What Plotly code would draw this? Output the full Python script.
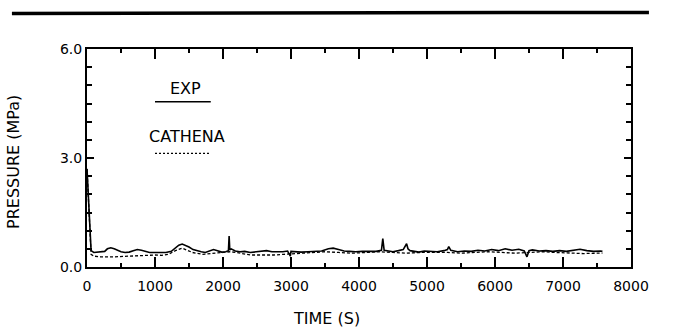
import plotly.graph_objects as go

exp_time = [0, 20, 40, 60, 100, 150, 200, 260, 300, 350, 400, 450, 500, 560, 620, 680, 740, 800, 860, 920,
            1000, 1080, 1160, 1240, 1300, 1350, 1400, 1450, 1500, 1560, 1620, 1680, 1740, 1800, 1860, 1920,
            1980, 2040, 2080, 2090, 2100, 2120, 2180, 2250, 2320, 2400, 2480, 2560, 2640, 2720, 2800, 2880,
            2950, 2990, 3000, 3050, 3150, 3250, 3350, 3450, 3550, 3620, 3700, 3780, 3860, 3950, 4050, 4150,
            4250, 4330, 4350, 4370, 4420, 4500, 4580, 4650, 4700, 4720, 4750, 4800, 4880, 4960, 5050, 5150,
            5250, 5300, 5320, 5350, 5450, 5550, 5650, 5750, 5850, 5950, 6050, 6150, 6250, 6350, 6430, 6470,
            6500, 6550, 6650, 6750, 6850, 6950, 7050, 7150, 7250, 7350, 7450, 7550, 7580]
exp_pressure = [2.7, 2.0, 1.0, 0.45, 0.40, 0.41, 0.40, 0.43, 0.50, 0.53, 0.50, 0.46, 0.42, 0.40, 0.41, 0.45, 0.48, 0.46, 0.42, 0.40,
                0.40, 0.39, 0.40, 0.43, 0.52, 0.60, 0.63, 0.60, 0.55, 0.48, 0.44, 0.42, 0.40, 0.44, 0.48, 0.45,
                0.41, 0.42, 0.45, 0.85, 0.47, 0.50, 0.44, 0.42, 0.43, 0.40, 0.41, 0.44, 0.45, 0.42, 0.41, 0.42,
                0.44, 0.30, 0.43, 0.42, 0.41, 0.42, 0.43, 0.44, 0.50, 0.52, 0.48, 0.44, 0.43, 0.42, 0.43, 0.44,
                0.43, 0.46, 0.78, 0.46, 0.44, 0.42, 0.45, 0.48, 0.64, 0.50, 0.45, 0.43, 0.41, 0.44, 0.43, 0.42,
                0.45, 0.48, 0.56, 0.46, 0.42, 0.44, 0.43, 0.46, 0.44, 0.48, 0.45, 0.50, 0.46, 0.49, 0.44, 0.28,
                0.45, 0.47, 0.44, 0.45, 0.43, 0.45, 0.43, 0.47, 0.49, 0.45, 0.43, 0.44, 0.43]

cat_time = [0, 30, 60, 100, 200, 400, 600, 800, 1000, 1100, 1200, 1300, 1400, 1450, 1550, 1700, 1900, 2000,
            2100, 2200, 2400, 2600, 2750, 2900, 3100, 3300, 3500, 3700, 3900, 4100, 4300, 4500, 4700, 4900,
            5100, 5300, 5500, 5700, 5900, 6100, 6300, 6500, 6700, 6900, 7100, 7300, 7500, 7580]
cat_pressure = [2.7, 1.5, 0.35, 0.30, 0.28, 0.28, 0.30, 0.33, 0.33, 0.32, 0.35, 0.45, 0.52, 0.48, 0.40, 0.35, 0.37, 0.40,
                0.42, 0.40, 0.33, 0.32, 0.33, 0.35, 0.38, 0.40, 0.42, 0.40, 0.38, 0.40, 0.42, 0.40, 0.38, 0.40,
                0.41, 0.40, 0.38, 0.40, 0.42, 0.40, 0.38, 0.40, 0.42, 0.40, 0.38, 0.37, 0.38, 0.38]

legend_labels = ["EXP", "CATHENA"]
legend_line_x = [1000, 1820]
legend_line_y = [4.55, 3.13]
legend_text_x = [1450, 1470]
legend_text_y = [4.92, 3.58]

FONT = "DejaVu Sans"

fig = go.Figure()
fig.add_trace(go.Scatter(x=exp_time, y=exp_pressure, mode="lines",
                         line=dict(color="black", width=1.6), showlegend=False))
fig.add_trace(go.Scatter(x=cat_time, y=cat_pressure, mode="lines",
                         line=dict(color="black", width=1.3, dash="3px,2px"), showlegend=False))

# legend samples
fig.add_trace(go.Scatter(x=legend_line_x, y=[legend_line_y[0]] * 2, mode="lines",
                         line=dict(color="black", width=1.6), showlegend=False))
fig.add_trace(go.Scatter(x=legend_line_x, y=[legend_line_y[1]] * 2, mode="lines",
                         line=dict(color="black", width=1.3, dash="2px,2px"), showlegend=False))
for lab, lx, ly in zip(legend_labels, legend_text_x, legend_text_y):
    fig.add_annotation(x=lx, y=ly, xref="x", yref="y", text=lab, showarrow=False,
                       font=dict(family=FONT, size=16, color="black"))

# header rule
fig.add_shape(type="line", xref="paper", yref="paper", x0=-0.138, x1=1.033, y0=1.163, y1=1.168,
              line=dict(color="black", width=3.5))

# axis titles
fig.add_annotation(x=0.44, y=-0.235, xref="paper", yref="paper", text="TIME (S)", showarrow=False,
                   yanchor="middle", font=dict(family=FONT, size=16, color="black"))
fig.add_annotation(x=-0.135, y=0.48, xref="paper", yref="paper", text="PRESSURE (MPa)", showarrow=False,
                   textangle=-90, xanchor="center", font=dict(family=FONT, size=16, color="black"))

fig.update_xaxes(range=[0, 8000], tickvals=[0, 1000, 2000, 3000, 4000, 5000, 6000, 7000, 8000],
                 ticks="inside", ticklen=10, tickwidth=1.5, tickcolor="black", ticklabelstandoff=5,
                 minor=dict(dtick=500, tick0=0, ticks="inside", ticklen=4, tickwidth=1.5, tickcolor="black"),
                 showline=True, linecolor="black", linewidth=2, mirror="ticks",
                 showgrid=False, zeroline=False,
                 tickfont=dict(family=FONT, size=14, color="black"))
fig.update_yaxes(range=[0, 6], tickvals=[0, 3, 6], tickformat=".1f",
                 ticks="inside", ticklen=7, tickwidth=1.5, tickcolor="black",
                 minor=dict(dtick=0.5, tick0=0, ticks="inside", ticklen=5, tickwidth=1.5, tickcolor="black"),
                 showline=True, linecolor="black", linewidth=2, mirror="ticks",
                 showgrid=False, zeroline=False,
                 tickfont=dict(family=FONT, size=14, color="black"))

fig.update_layout(width=673, height=331, margin=dict(l=87, r=42, t=49, b=64),
                  plot_bgcolor="white", paper_bgcolor="white")

fig.write_html("out.html")
